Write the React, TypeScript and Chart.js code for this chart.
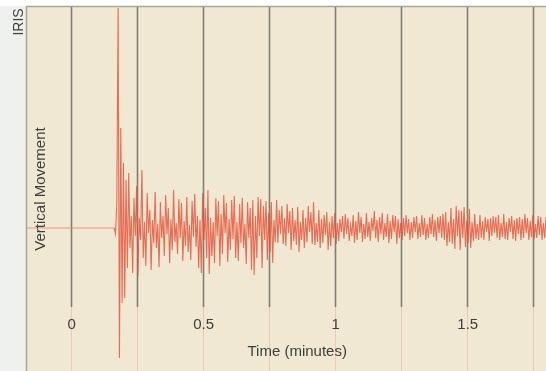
import React, { useEffect, useRef } from "react";
import { Chart, registerables } from "chart.js";

Chart.register(...registerables);

// Time axis (minutes)
const X_MIN = -0.165;
const X_MAX = 1.8;
const GRID_TIMES = [0, 0.25, 0.5, 0.75, 1, 1.25, 1.5, 1.75];
const TICK_VALUES = [0, 0.5, 1, 1.5];
const TICK_LABELS = ["0", "0.5", "1", "1.5"];
const X_TITLE = "Time (minutes)";
const Y_TITLE = "Vertical Movement";
const BRAND = "IRIS";

// Vertical movement (arbitrary units, 0 = rest)
const Y_MIN = -143;
const Y_MAX = 221;

// Quiet record before the first arrival
const PRE_TIMES = [-0.165, 0.165];
const PRE_VALUES = [0, 0];

// Seismogram samples starting at SAMPLE_START, every SAMPLE_STEP minutes
const SAMPLE_START = 0.165;
const SAMPLE_STEP = 0.005;
const MOVEMENT = [
  0, -6, 25, 220, -130, 100, -75, 65, -70, 48,
  -40, 55, -20, 12, -45, 30, -8, 42, -48, 10,
  -12, 58, -30, 6, -38, 35, -5, 18, -42, 8,
  -15, 36, -20, 4, -39, 26, -10, 12, -28, 33,
  -6, 20, -35, 9, -22, 38, -14, 5, -26, 29,
  -10, 25, -33, 7, -18, 31, -24, 3, -32, 27,
  -9, 34, -19, 12, -40, 8, -45, 35, -12, 20,
  -30, 38, -46, 10, -28, 6, -35, 30, -8, 27,
  -38, 14, -26, 33, -5, 25, -34, 9, -22, 28,
  -11, 32, -30, 6, -33, 24, -15, 30, -20, 4,
  -36, 26, -10, 20, -42, 28, -47, 12, -30, 31,
  -8, 29, -40, 22, -12, 27, -32, 15, -24, 26,
  -35, 8, -14, 28, -15, 18, -6, 22, -16, 10,
  -18, 24, -5, 17, -22, 20, -13, 8, -17, 21,
  -24, 6, -12, 18, -20, 10, -14, 22, -4, 16,
  -16, 26, -17, 5, -14, 18, -20, 9, -15, 13,
  -7, 16, -22, 6, -18, 12, -10, 15, -16, 5,
  -13, 9, -4, 12, -11, 14, -6, 10, -13, 3,
  -8, 13, -15, 7, -12, 16, -5, 11, -14, 4,
  -11, 15, -9, 6, -13, 10, -3, 17, -10, 8,
  -14, 11, -6, 15, -12, 5, -9, 14, -15, 7,
  -11, 13, -4, 12, -16, 9, -10, 5, -12, 10,
  -8, 13, -5, 9, -12, 6, -10, 11, -4, 12,
  -11, 5, -9, 13, -7, 10, -12, 4, -10, 11,
  -6, 14, -9, 8, -13, 11, -5, 12, -10, 14,
  -12, 16, -18, 6, -14, 20, -16, 9, -21, 22,
  -8, 18, -22, 17, -10, 21, -19, 7, -15, 19,
  -20, 6, -13, 14, -11, 4, -12, 13, -10, 7,
  -12, 11, -4, 9, -13, 10, -8, 12, -5, 11,
  -10, 13, -12, 5, -9, 14, -11, 6, -12, 10,
  -4, 12, -11, 8, -13, 10, -6, 11, -12, 9,
  -10, 14, -5, 10, -12, 7, -9, 13, -11, 4,
  -10, 12, -7, 11, -12, 5, -10, 11,
];

// Where the dark grid lines stop and where the texts sit (in axis units)
const GRID_END_VALUE = -79;
const TICK_LABEL_VALUE = -97;
const X_TITLE_VALUE = -124;
const X_TITLE_TIME = 0.858;
const Y_TITLE_VALUE = 39;

const FONT = '"Liberation Sans", Arial, sans-serif';

const paperPlugin = {
  id: "paper",
  beforeDraw(chart: any) {
    const { ctx, chartArea, width, height } = chart;
    ctx.save();
    ctx.fillStyle = "#ffffff";
    ctx.fillRect(0, 0, width, height);
    ctx.fillStyle = "#eff1ee";
    ctx.fillRect(0, chartArea.top - 1, chartArea.left, height);
    ctx.fillStyle = "#f0e8d3";
    ctx.fillRect(chartArea.left, chartArea.top, chartArea.right - chartArea.left, chartArea.bottom - chartArea.top);
    ctx.strokeStyle = "#a4a49c";
    ctx.lineWidth = 1.5;
    ctx.beginPath();
    ctx.moveTo(chartArea.left - 0.5, chartArea.bottom);
    ctx.lineTo(chartArea.left - 0.5, chartArea.top - 0.5);
    ctx.lineTo(chartArea.right, chartArea.top - 0.5);
    ctx.stroke();
    ctx.restore();
  },
  beforeDatasetsDraw(chart: any) {
    const { ctx, chartArea, scales } = chart;
    const xs = scales.x;
    const ys = scales.y;
    const yEnd = ys.getPixelForValue(GRID_END_VALUE);
    ctx.save();
    GRID_TIMES.forEach((t) => {
      const px = Math.round(xs.getPixelForValue(t)) + 0.5;
      ctx.strokeStyle = "rgba(226,178,150,0.55)";
      ctx.lineWidth = 1;
      ctx.beginPath();
      ctx.moveTo(px, yEnd);
      ctx.lineTo(px, chartArea.bottom);
      ctx.stroke();
      ctx.strokeStyle = "#7f7d74";
      ctx.lineWidth = 1.6;
      ctx.beginPath();
      ctx.moveTo(px, chartArea.top);
      ctx.lineTo(px, yEnd);
      ctx.stroke();
    });
    ctx.restore();
  },
  afterDraw(chart: any) {
    const { ctx, scales } = chart;
    const xs = scales.x;
    const ys = scales.y;
    ctx.save();
    ctx.fillStyle = "#3e3e3c";
    ctx.font = `15px ${FONT}`;
    ctx.textAlign = "center";
    ctx.textBaseline = "middle";
    TICK_VALUES.forEach((v, i) => {
      ctx.fillText(TICK_LABELS[i], xs.getPixelForValue(v) + 1, ys.getPixelForValue(TICK_LABEL_VALUE));
    });
    ctx.fillText(X_TITLE, xs.getPixelForValue(X_TITLE_TIME), ys.getPixelForValue(X_TITLE_VALUE));
    ctx.save();
    ctx.translate(41, ys.getPixelForValue(Y_TITLE_VALUE));
    ctx.rotate(-Math.PI / 2);
    ctx.fillText(Y_TITLE, 0, 0);
    ctx.restore();
    ctx.save();
    ctx.translate(19.5, 22);
    ctx.rotate(-Math.PI / 2);
    ctx.font = `14px ${FONT}`;
    ctx.fillStyle = "#444442";
    ctx.fillText(BRAND, 0, 0);
    ctx.restore();
    ctx.restore();
  },
};

export default function App() {
  const ref = useRef<HTMLCanvasElement | null>(null);

  useEffect(() => {
    if (!ref.current) return;
    const pre = PRE_TIMES.map((t, i) => ({ x: t, y: PRE_VALUES[i] }));
    const wave = MOVEMENT.map((v, i) => ({ x: SAMPLE_START + i * SAMPLE_STEP, y: v }));
    const chart = new Chart(ref.current, {
      type: "line",
      data: {
        datasets: [
          {
            data: pre,
            borderColor: "rgba(232,130,100,0.8)",
            borderWidth: 1,
            pointRadius: 0,
            tension: 0,
          },
          {
            data: wave,
            borderColor: "rgba(230,80,56,0.82)",
            borderWidth: 1.1,
            pointRadius: 0,
            tension: 0,
          },
        ],
      },
      options: {
        responsive: false,
        animation: false,
        layout: { padding: { left: 27, top: 7, right: 0, bottom: 0 } },
        plugins: { legend: { display: false }, tooltip: { enabled: false } },
        scales: {
          x: { type: "linear", min: X_MIN, max: X_MAX, display: false },
          y: { type: "linear", min: Y_MIN, max: Y_MAX, display: false },
        },
      },
      plugins: [paperPlugin],
    });
    return () => chart.destroy();
  }, []);

  return (
    <div style={{ position: "absolute", left: 0, top: 0 }}>
      <canvas ref={ref} width={546} height={371} style={{ display: "block", width: 546, height: 371 }} />
    </div>
  );
}
